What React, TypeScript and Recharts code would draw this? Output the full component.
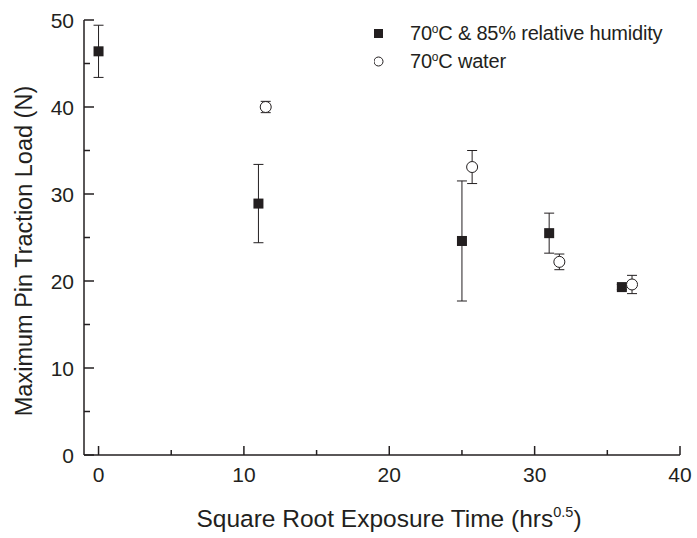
import { ScatterChart, Scatter, XAxis, YAxis, ErrorBar } from 'recharts';

const humidX = [0, 11, 25, 31, 36];
const humidY = [46.4, 28.9, 24.6, 25.5, 19.3];
const humidErr = [3.0, 4.5, 6.9, 2.3, 0.3];

const waterX = [11.5, 25.7, 31.7, 36.7];
const waterY = [40.0, 33.1, 22.2, 19.6];
const waterErr = [0.65, 1.9, 0.9, 1.05];

const xTicks = [0, 5, 10, 15, 20, 25, 30, 35, 40];
const yTicks = [0, 5, 10, 15, 20, 25, 30, 35, 40, 45, 50];

const seriesNames = ['humid', 'water'];

const humidData = humidX.map((x, i) => ({ x, y: humidY[i], err: humidErr[i] }));
const waterData = waterX.map((x, i) => ({ x, y: waterY[i], err: waterErr[i] }));

const ink = '#231f20';
const font = '"Liberation Sans", Arial, Helvetica, sans-serif';

function SquareDot(props: any) {
  const { cx, cy } = props;
  if (cx == null || cy == null) return null;
  return <rect x={cx - 5} y={cy - 5} width={10} height={10} fill={ink} />;
}

function CircleDot(props: any) {
  const { cx, cy } = props;
  if (cx == null || cy == null) return null;
  return <circle cx={cx} cy={cy} r={5.5} fill="#fff" stroke={ink} strokeWidth={1} />;
}

function XTick(props: any) {
  const { x, y, payload } = props;
  const major = payload.value % 10 === 0;
  return (
    <g>
      <line x1={x} y1={y} x2={x} y2={y - (major ? 9 : 5)} stroke={ink} strokeWidth={1.5} />
      {major && (
        <text x={x} y={y + 27} textAnchor="middle" fontSize={21} fill={ink} fontFamily={font}>
          {payload.value}
        </text>
      )}
    </g>
  );
}

function YTick(props: any) {
  const { x, y, payload } = props;
  const major = payload.value % 10 === 0;
  return (
    <g>
      <line x1={x} y1={y} x2={x + (major ? 10 : 6)} y2={y} stroke={ink} strokeWidth={1.5} />
      {major && (
        <text x={x - 10} y={y} dy="0.36em" textAnchor="end" fontSize={21} fill={ink} fontFamily={font}>
          {payload.value}
        </text>
      )}
    </g>
  );
}

function LegendBox() {
  const rows = [
    { key: seriesNames[0], label: ' & 85% relative humidity', filled: true },
    { key: seriesNames[1], label: ' water', filled: false },
  ];
  return (
    <div
      style={{
        position: 'absolute',
        top: 19,
        left: 374,
        fontFamily: font,
        fontSize: 20,
        color: ink,
      }}
    >
      {rows.map((r) => (
        <div key={r.key} style={{ display: 'flex', alignItems: 'center', height: 28 }}>
          <svg width={36} height={28} style={{ display: 'block' }}>
            {r.filled ? (
              <rect x={0} y={10} width={9} height={9} fill={ink} />
            ) : (
              <circle cx={4.5} cy={14.5} r={4.5} fill="#fff" stroke={ink} strokeWidth={1} />
            )}
          </svg>
          <span style={{ whiteSpace: 'nowrap', letterSpacing: '-0.2px' }}>
            70<sup style={{ fontSize: 12, verticalAlign: 'top', lineHeight: '14px' }}>o</sup>C{r.label}
          </span>
        </div>
      ))}
    </div>
  );
}

export default function App() {
  return (
    <div style={{ position: 'relative', width: 697, height: 538, fontFamily: font }}>
      <style>{'body{margin:0;overflow:hidden}'}</style>
      <ScatterChart width={697} height={538} margin={{ top: 20, right: 17, bottom: 0, left: 0 }}>
        <XAxis
          type="number"
          dataKey="x"
          domain={[-1, 40]}
          ticks={xTicks}
          height={83}
          tickSize={0}
          tickMargin={0}
          tickLine={false}
          axisLine={{ stroke: ink, strokeWidth: 1.5 }}
          tick={<XTick />}
          interval={0}
          label={({ viewBox }: any) => (
            <text
              x={viewBox.x + viewBox.width / 2 + 7}
              y={viewBox.y + 72}
              textAnchor="middle"
              fontSize={24.5}
              fill={ink}
              fontFamily={font}
            >
              Square Root Exposure Time (hrs
              <tspan dy={-10} fontSize={14.5}>0.5</tspan>
              <tspan dy={10}>)</tspan>
            </text>
          )}
        />
        <YAxis
          type="number"
          dataKey="y"
          domain={[0, 50]}
          ticks={yTicks}
          width={84}
          tickSize={0}
          tickMargin={0}
          tickLine={false}
          axisLine={{ stroke: ink, strokeWidth: 1.5 }}
          tick={<YTick />}
          interval={0}
          label={() => (
            <text
              x={0}
              y={0}
              transform="translate(32, 251) rotate(-90)"
              textAnchor="middle"
              fontSize={23.5}
              fill={ink}
              fontFamily={font}
            >
              Maximum Pin Traction Load (N)
            </text>
          )}
        />
        <Scatter name={seriesNames[0]} data={humidData} shape={<SquareDot />} isAnimationActive={false}>
          <ErrorBar dataKey="err" direction="y" width={5} stroke={ink} strokeWidth={1} />
        </Scatter>
        <Scatter name={seriesNames[1]} data={waterData} shape={<CircleDot />} isAnimationActive={false}>
          <ErrorBar dataKey="err" direction="y" width={5} stroke={ink} strokeWidth={1} />
        </Scatter>
      </ScatterChart>
      <LegendBox />
    </div>
  );
}
